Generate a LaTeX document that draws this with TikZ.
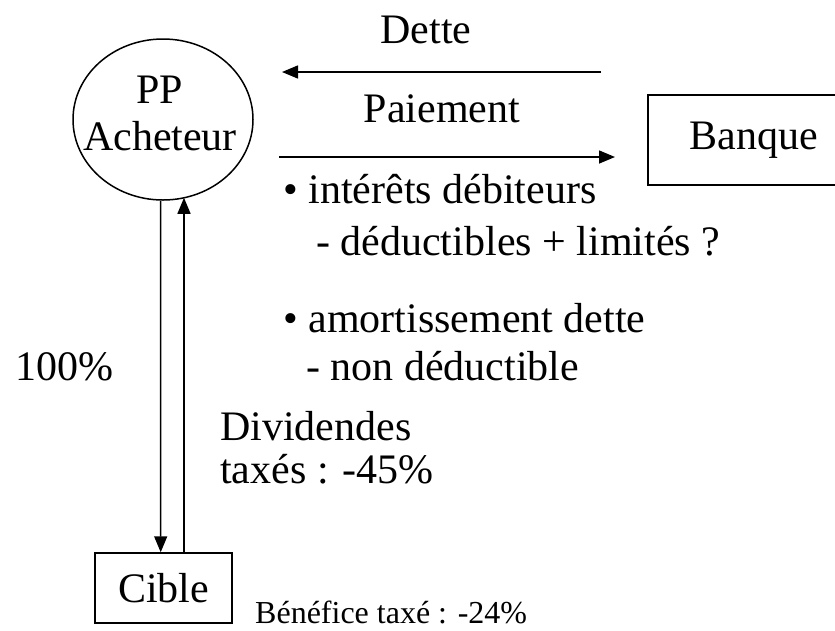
\documentclass[tikz,border=0pt]{standalone}
\usepackage{fontspec}
\setmainfont{Liberation Serif}
\usetikzlibrary{shapes.geometric,arrows.meta,calc}
\begin{document}
\begin{tikzpicture}[x=1pt,y=-1pt,
  big/.style={font=\fontsize{42}{47}\selectfont},
  small/.style={font=\fontsize{32}{38}\selectfont},
  txt/.style={inner sep=0pt,anchor=base west},
  boxed/.style={draw,line width=1.5pt,inner sep=0pt},
  arr/.style={line width=1.5pt,-{Triangle[length=16pt,width=13pt]}}]
  \clip (0,0) rectangle (835,630);

  % parties
  \node[boxed,ellipse,minimum width=180pt,minimum height=161pt,big,align=center]
    (pp) at (163,119.5) {};
  \node[big,inner sep=0pt,anchor=base] (ppA) at (160,103) {PP};
  \node[big,inner sep=0pt,anchor=base] (ppB) at (160,150) {Acheteur};
  \node[boxed,rectangle,minimum width=212pt,minimum height=90pt,big]
    (banque) at (754,140) {Banque};
  \node[boxed,rectangle,minimum width=137pt,minimum height=70pt,big]
    (cible) at (163.5,588) {Cible};

  % flows between buyer and bank
  \coordinate (detteA) at (601,72);
  \coordinate (detteB) at (282,72);
  \coordinate (paieA) at (279,157);
  \coordinate (paieB) at (615,157);
  \draw[arr] (detteA) -- (detteB);
  \draw[arr] (paieA) -- (paieB);
  \node[big,txt,anchor=base] (dette) at (426,43) {Dette};
  \node[big,txt,anchor=base] (paiement) at (442,122) {Paiement};

  % flows between buyer and target
  \draw[arr] ($(pp.south)+(-2.5,0)$) -- ($(cible.north)+(-2.8,0)$);
  \draw[arr] ($(cible.north)+(20.5,0)$) -- ($(pp.center)+(21,78.3)$);

  % labels
  \node[big,txt] (b1) at (283,203) {• intérêts débiteurs};
  \node[big,txt] (b1a) at (316,255) {- déductibles + limités ?};
  \node[big,txt] (b2) at (283,332) {• amortissement dette};
  \node[big,txt] (b2a) at (306,380) {- non déductible};
  \node[big,txt] (pct) at (15,380) {100\%};
  \node[big,txt] (div1) at (220,440) {Dividendes};
  \node[big,txt] (div2) at (220,483) {taxés : -45\%};
  \node[small,txt] (benef) at (255,623) {Bénéfice taxé : -24\%};
\end{tikzpicture}
\end{document}
